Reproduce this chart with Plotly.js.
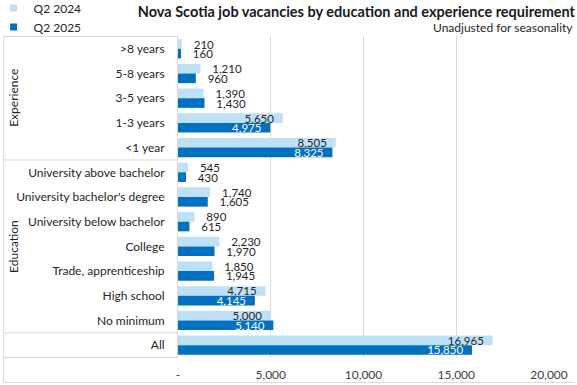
<!DOCTYPE html>
<html>
<head>
<meta charset="utf-8">
<script src="https://cdn.plot.ly/plotly-3.0.1.min.js"></script>
<style>html,body{margin:0;padding:0;background:#fff}#chart{width:577px;height:385px}</style>
</head>
<body>
<div id="chart"></div>
<script>
// Categories, top to bottom
const categories = [">8 years", "5-8 years", "3-5 years", "1-3 years", "<1 year",
  "University above bachelor", "University bachelor's degree", "University below bachelor",
  "College", "Trade, apprenticeship", "High school", "No minimum", "All"];
const q2_2024 = [210, 1210, 1390, 5650, 8505, 545, 1740, 890, 2230, 1850, 4715, 5000, 16965];
const q2_2025 = [160, 960, 1430, 4975, 8325, 430, 1605, 615, 1970, 1945, 4145, 5140, 15850];
const seriesNames = ["Q2 2024", "Q2 2025"];
const groupLabels = ["Experience", "Education"];
const tickValues = [0, 5000, 10000, 15000, 20000];
const tickLabels = ["-", "5,000", "10,000", "15,000", "20,000"];

const FONT = "Lato, 'Liberation Sans', Arial, sans-serif";
const FS = 12, LFS = 11.5;
const LIGHT = "#BFE1F7", DARK = "#0070C0", GRID = "#D9D9D9", TXT = "#262626";
const NB = "\u00a0";
const insideThreshold = 4000;
function pos(v) { return v.map(x => x >= insideThreshold ? "inside" : "outside"); }
function tpl(v) { return v.map(x => x >= insideThreshold ? "%{x:,}" + NB + NB : NB + NB + NB + "%{x:,}"); }

function barTrace(vals, name, color, insideColor) {
  return {
    type: "bar", orientation: "h", y: categories, x: vals, name: name,
    marker: { color: color }, showlegend: false,
    texttemplate: tpl(vals), textposition: pos(vals),
    insidetextanchor: "end", constraintext: "none",
    insidetextfont: { family: FONT, size: LFS, color: insideColor },
    outsidetextfont: { family: FONT, size: LFS, color: TXT },
    cliponaxis: false, hoverinfo: "x+name"
  };
}
function legendTrace(name, color) {
  return { type: "scatter", mode: "markers", x: [null], y: [null], name: name,
    marker: { symbol: "square", size: 7, color: color }, showlegend: true, hoverinfo: "skip" };
}

const traces = [
  barTrace(q2_2024, seriesNames[0], LIGHT, TXT),
  barTrace(q2_2025, seriesNames[1], DARK, "#FFFFFF"),
  legendTrace(seriesNames[0], LIGHT),
  legendTrace(seriesNames[1], DARK)
];

const L = 177.6, R = 28, T = 35.6, B = 26.6, W = 577, H = 385;
const pw = W - L - R, ph = H - T - B;
const px = x => (x - L) / pw;          // pixel x -> paper x
const py = y => (H - B - y) / ph;      // pixel y -> paper y

const sepLine = (yy) => ({ type: "line", xref: "paper", yref: "y", x0: px(3), x1: 0, y0: yy, y1: yy,
  line: { color: GRID, width: 1 } });

const layout = {
  width: W, height: H,
  margin: { l: L, r: R, t: T, b: B, pad: 0, autoexpand: false },
  paper_bgcolor: "#fff", plot_bgcolor: "#fff",
  font: { family: FONT, size: FS, color: TXT },
  barmode: "group", bargap: 0.22, bargroupgap: 0,
  title: { text: "<b>Nova Scotia job vacancies by education and experience requirement</b>",
    x: 575 / W, xanchor: "right", xref: "container", y: 1 - 12 / H, yanchor: "middle", yref: "container",
    font: { family: FONT, size: 14.5, color: "#1a1a1a" } },
  xaxis: { range: [0, 20000], tickvals: tickValues, ticktext: tickLabels, automargin: false,
    showgrid: true, gridcolor: GRID, gridwidth: 1, zeroline: false, showline: false,
    ticks: "", ticklabelstandoff: 8, tickfont: { family: FONT, size: FS, color: "#404040" }, fixedrange: true },
  yaxis: { type: "category", categoryorder: "array", categoryarray: categories, autorange: "reversed",
    automargin: false,
    showline: true, linecolor: GRID, linewidth: 1, showgrid: false, ticks: "", ticklabelstandoff: 10,
    tickfont: { family: FONT, size: FS, color: TXT }, fixedrange: true },
  legend: { xref: "paper", yref: "paper", x: px(-7), xanchor: "left", y: py(-7), yanchor: "top",
    bgcolor: "rgba(0,0,0,0)",
    font: { family: FONT, size: FS, color: TXT }, traceorder: "normal", itemwidth: 30, tracegroupgap: 0 },
  shapes: [
    sepLine(-0.5), sepLine(4.5), sepLine(11.5), sepLine(12.5),
    { type: "line", xref: "paper", yref: "paper", x0: px(3), x1: px(3), y0: py(36), y1: py(383), line: { color: GRID, width: 1 } },
    { type: "line", xref: "paper", yref: "paper", x0: px(3), x1: px(575), y0: py(383), y1: py(383), line: { color: GRID, width: 1 } }
  ],
  annotations: [
    { text: "Unadjusted for seasonality", xref: "paper", yref: "paper", x: px(575), y: py(27),
      xanchor: "right", yanchor: "middle", showarrow: false, font: { family: FONT, size: FS, color: TXT } },
    { text: groupLabels[0], xref: "paper", yref: "y", x: px(13), y: 2, textangle: -90,
      xanchor: "center", yanchor: "middle", showarrow: false, font: { family: FONT, size: FS, color: TXT } },
    { text: groupLabels[1], xref: "paper", yref: "y", x: px(13), y: 8, textangle: -90,
      xanchor: "center", yanchor: "middle", showarrow: false, font: { family: FONT, size: FS, color: TXT } }
  ]
};

Plotly.newPlot("chart", traces, layout, { displayModeBar: false, staticPlot: true });
</script>
</body>
</html>
